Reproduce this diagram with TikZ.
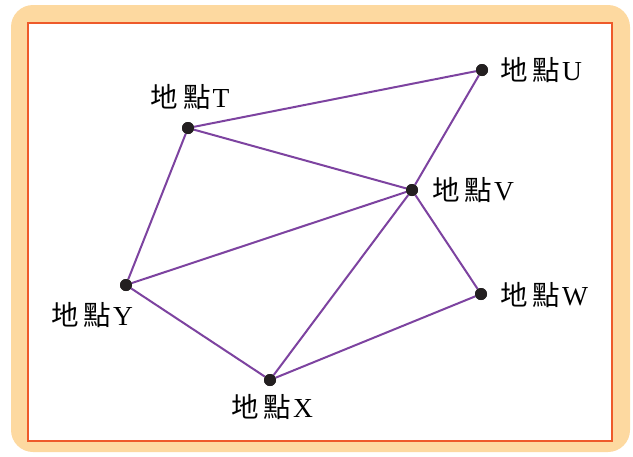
\documentclass[tikz,border=0pt]{standalone}
\usepackage{fontspec}
\setmainfont{Liberation Serif}
\newfontfamily\cjk{Noto Sans CJK TC}
\definecolor{peach}{HTML}{FDD9A0}
\definecolor{redline}{HTML}{EE5A2A}
\definecolor{edgepurple}{HTML}{7D43A0}
\definecolor{dotcol}{HTML}{231F20}
\tikzset{
  pt/.style={circle,fill=dotcol,inner sep=0pt,minimum size=12pt},
  edge/.style={draw=edgepurple,line width=2pt},
  lbl/.style={font=\fontsize{27.5}{32}\selectfont,text=black,inner sep=1pt}
}
\newcommand{\place}[1]{{\cjk 地\hspace{5pt}點}\hspace{2pt}#1}
\begin{document}
\begin{tikzpicture}[x=1pt,y=-1pt]
\useasboundingbox (0,0) rectangle (633,456);
\fill[peach,rounded corners=22pt] (11,5) rectangle (630,452);
\fill[white] (28,23) rectangle (612,441);
\draw[redline,line width=2.2pt] (28,23) rectangle (612,441);
\node[pt] (T) at (188,128) {};
\node[pt] (U) at (482,70) {};
\node[pt] (V) at (412,190) {};
\node[pt] (W) at (481,294) {};
\node[pt] (X) at (270,380) {};
\node[pt] (Y) at (126,285) {};
\draw[edge] (T) -- (U);
\draw[edge] (T) -- (V);
\draw[edge] (T) -- (Y);
\draw[edge] (U) -- (V);
\draw[edge] (V) -- (Y);
\draw[edge] (V) -- (X);
\draw[edge] (V) -- (W);
\draw[edge] (Y) -- (X);
\draw[edge] (X) -- (W);
\node[pt] at (T) {};
\node[pt] at (U) {};
\node[pt] at (V) {};
\node[pt] at (W) {};
\node[pt] at (X) {};
\node[pt] at (Y) {};
\node[lbl] (lT) at (190,97) {\place{T}};
\node[lbl,anchor=west] (lU) at (499,70) {\place{U}};
\node[lbl,anchor=west] (lV) at (431,190) {\place{V}};
\node[lbl,anchor=west] (lW) at (499,295) {\place{W}};
\node[lbl] (lX) at (272,407) {\place{X}};
\node[lbl] (lY) at (92,315) {\place{Y}};
\end{tikzpicture}
\end{document}
